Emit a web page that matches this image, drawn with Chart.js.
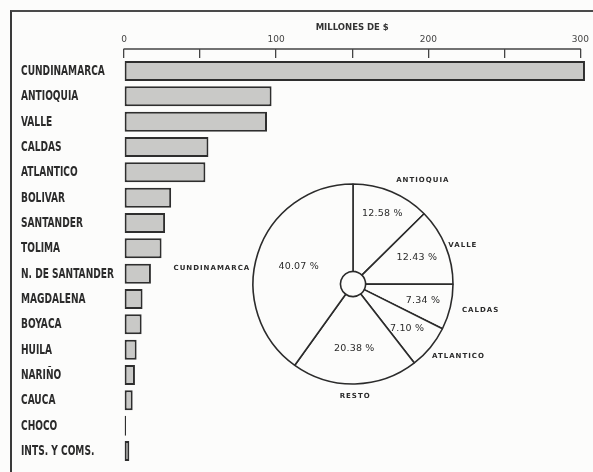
<!DOCTYPE html>
<html>
<head>
<meta charset="utf-8">
<script src="https://cdn.jsdelivr.net/npm/chart.js@4.4.1/dist/chart.umd.min.js"></script>
<style>
  html, body { margin: 0; padding: 0; background: #fcfcfb; }
  #wrap { position: relative; width: 593px; height: 472px; overflow: hidden; }
  #frame { position: absolute; left: 10px; top: 10px; width: 620px; height: 480px;
           border-left: 2px solid #3a3a3a; border-top: 2px solid #4a4a4a; }
  canvas { position: absolute; }
  #bars { left: 0; top: 0; }
  #pie { left: 163px; top: 164px; }
</style>
</head>
<body>
<div id="wrap">
  <div id="frame"></div>
  <canvas id="bars" width="593" height="472"></canvas>
  <canvas id="pie" width="380" height="240"></canvas>
</div>
<script>
// bar chart data (millones de $)
const departamentos = ['CUNDINAMARCA', 'ANTIOQUIA', 'VALLE', 'CALDAS', 'ATLANTICO', 'BOLIVAR',
  'SANTANDER', 'TOLIMA', 'N. DE SANTANDER', 'MAGDALENA', 'BOYACA', 'HUILA', 'NARIÑO',
  'CAUCA', 'CHOCO', 'INTS. Y COMS.'];
const millones = [303, 97, 94, 55.5, 53.5, 31, 27, 24.7, 17.7, 12.2, 11.6, 8.3, 7.2, 5.7, 0.8, 3.5];
const escala = [0, 100, 200, 300];

// pie chart data (%)
const sectores = ['ANTIOQUIA', 'VALLE', 'CALDAS', 'ATLANTICO', 'RESTO', 'CUNDINAMARCA'];
const porcentajes = [12.58, 12.43, 7.34, 7.10, 20.38, 40.07];

// label placement around the pie (not data)
const pctRadius = [0.76, 0.69, 0.72, 0.7, 0.65, 0.57];
const nameGap = [12, 3, 12, 7, 10, 4];
const nameTurn = [0, 0, 0, 3, 0, -9];

const ink = '#2b2b2b';
const TICK_LEN = 9.3;

// horizontal line closing the top of the tick marks
const axisCap = {
  id: 'axisCap',
  afterDraw(chart) {
    const sx = chart.scales.x;
    const ctx = chart.ctx;
    const y = sx.bottom - TICK_LEN;
    ctx.save();
    ctx.strokeStyle = '#444';
    ctx.lineWidth = 1.5;
    ctx.beginPath();
    ctx.moveTo(sx.getPixelForValue(0) - 0.5, y);
    ctx.lineTo(sx.getPixelForValue(300) + 0.5, y);
    ctx.stroke();
    ctx.restore();
  }
};

// narrow, tall category names like the old lettering
const narrowLabels = {
  id: 'narrowLabels',
  afterDraw(chart) {
    const sy = chart.scales.y;
    const ctx = chart.ctx;
    ctx.save();
    ctx.fillStyle = ink;
    ctx.font = 'bold condensed 14px "DejaVu Sans"';
    ctx.textAlign = 'left';
    ctx.textBaseline = 'middle';
    sy.ticks.forEach((t, i) => {
      ctx.save();
      ctx.translate(sy.left, sy.getPixelForTick(i) + 0.5);
      ctx.scale(0.72, 1);
      ctx.fillText(sy.getLabelForValue(t.value), 0, 0);
      ctx.restore();
    });
    ctx.restore();
  }
};

new Chart(document.getElementById('bars'), {
  type: 'bar',
  data: {
    labels: departamentos,
    datasets: [{
      data: millones,
      backgroundColor: '#c9c9c7',
      borderColor: '#2e2e2e',
      borderWidth: 2,
      borderSkipped: false,
      categoryPercentage: 1,
      barPercentage: 0.79,
      minBarLength: 2,
      clip: false
    }]
  },
  options: {
    indexAxis: 'y',
    responsive: false,
    animation: false,
    layout: { padding: { left: 21, right: 11, top: 14, bottom: 8.3 } },
    plugins: { legend: { display: false }, tooltip: { enabled: false } },
    scales: {
      x: {
        position: 'top',
        min: 0,
        max: 300,
        afterFit(scale) { scale.height = 44.3; },
        ticks: {
          stepSize: 50,
          autoSkip: false,
          maxRotation: 0,
          padding: 4,
          color: '#444',
          font: { family: 'DejaVu Sans', size: 9 },
          callback: v => escala.includes(v) ? String(v) : ''
        },
        grid: { drawOnChartArea: false, drawTicks: true, tickLength: TICK_LEN, color: '#444', lineWidth: 1.3 },
        border: { display: false },
        title: {
          display: true,
          text: 'MILLONES DE $',
          color: '#333',
          font: { family: 'DejaVu Sans', size: 8.5, weight: 'bold' },
          padding: { top: 9, bottom: 0 }
        }
      },
      y: {
        afterFit(scale) { scale.width = 103; },
        ticks: { display: false },
        grid: { display: false },
        border: { display: false }
      }
    }
  },
  plugins: [axisCap, narrowLabels]
});

// labels inside and around the pie slices
const pieLabels = {
  id: 'pieLabels',
  afterDatasetsDraw(chart) {
    const ctx = chart.ctx;
    const meta = chart.getDatasetMeta(0);
    ctx.save();
    ctx.fillStyle = ink;
    meta.data.forEach((arc, i) => {
      const p = arc.getProps(['x', 'y', 'startAngle', 'endAngle', 'outerRadius'], true);
      const a = (p.startAngle + p.endAngle) / 2;

      // percentage inside
      ctx.font = '9.5px "DejaVu Sans"';
      ctx.letterSpacing = '0.2px';
      ctx.textAlign = 'center';
      ctx.textBaseline = 'middle';
      const rIn = p.outerRadius * pctRadius[i];
      ctx.fillText(porcentajes[i].toFixed(2) + ' %', p.x + rIn * Math.cos(a), p.y + rIn * Math.sin(a));

      // name outside
      const b = a + nameTurn[i] * Math.PI / 180;
      const c = Math.cos(b), s = Math.sin(b);
      ctx.font = 'bold 7px "DejaVu Sans"';
      ctx.letterSpacing = '1px';
      const rOut = p.outerRadius + nameGap[i];
      let tx = p.x + rOut * c, ty = p.y + rOut * s;
      if (c > 0.3) ctx.textAlign = 'left';
      else if (c < -0.3) ctx.textAlign = 'right';
      else { ctx.textAlign = 'center'; ty += s > 0 ? 2 : -2; }
      ctx.fillText(sectores[i], tx, ty);
    });
    ctx.restore();
  }
};

new Chart(document.getElementById('pie'), {
  type: 'doughnut',
  data: {
    labels: sectores,
    datasets: [{
      data: porcentajes,
      backgroundColor: '#fcfcfb',
      borderColor: ink,
      borderWidth: 1.6
    }]
  },
  options: {
    responsive: false,
    animation: false,
    radius: 100,
    cutout: 15,
    rotation: 0,
    plugins: { legend: { display: false }, tooltip: { enabled: false } }
  },
  plugins: [pieLabels]
});
</script>
</body>
</html>
